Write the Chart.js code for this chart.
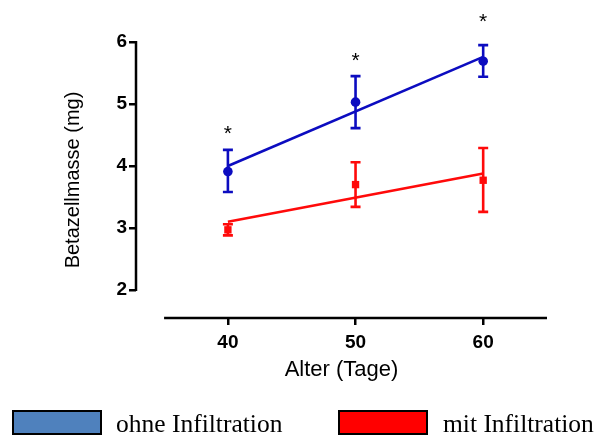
<!DOCTYPE html>
<html>
<head>
<meta charset="utf-8">
<script src="https://cdn.jsdelivr.net/npm/chart.js"></script>
<style>
  body { margin: 0; background: #fff; }
  #wrap { position: relative; width: 597px; height: 436px; overflow: hidden; }
  .box { position: absolute; top: 410px; width: 86px; height: 21px; border: 2.5px solid #000; }
  .txt { position: absolute; top: 411px; line-height: 1; font-family: "Liberation Serif", "Times New Roman", serif; font-size: 25.5px; color: #000; white-space: nowrap; }
</style>
</head>
<body>
<div id="wrap">
  <canvas id="chart"></canvas>
  <div class="box" style="left:12px;background:#4f81bd;"></div>
  <div class="txt" style="left:116px;">ohne Infiltration</div>
  <div class="box" style="left:338px;background:#ff0000;"></div>
  <div class="txt" style="left:443px;">mit Infiltration</div>
</div>
<script>
// Daten
const ages = [40, 50, 60];
const ohneMean = [3.91, 5.03, 5.69];
const ohneLow = [3.58, 4.61, 5.44];
const ohneHigh = [4.26, 5.45, 5.95];
const mitMean = [2.97, 3.70, 3.77];
const mitLow = [2.88, 3.34, 3.26];
const mitHigh = [3.06, 4.06, 4.29];
const fitX = [40, 60];
const ohneFit = [4.00, 5.76];
const mitFit = [3.10, 3.88];
const starY = [4.58, 5.76, 6.39];
const xTicks = [40, 50, 60];
const yTicks = [2, 3, 4, 5, 6];

const BLUE = '#0c0cc0';
const RED = '#ff0a0a';
const FONT = '"Liberation Sans", Arial, sans-serif';

const pts = (xs, ys) => xs.map((x, i) => ({ x: x, y: ys[i] }));

// Fehlerbalken, Sterne und Achsenlinien
const extras = {
    id: 'extras',
    afterDatasetsDraw(chart) {
        const { ctx, scales: { x, y }, chartArea } = chart;
        ctx.save();
        chart.data.datasets.forEach(ds => {
            if (!ds.errLow) return;
            ctx.strokeStyle = ds.borderColor;
            ctx.lineWidth = 2.6;
            ds.data.forEach((p, i) => {
                const px = x.getPixelForValue(p.x);
                const lo = y.getPixelForValue(ds.errLow[i]);
                const hi = y.getPixelForValue(ds.errHigh[i]);
                ctx.beginPath();
                ctx.moveTo(px, lo); ctx.lineTo(px, hi);
                ctx.moveTo(px - 5, lo); ctx.lineTo(px + 5, lo);
                ctx.moveTo(px - 5, hi); ctx.lineTo(px + 5, hi);
                ctx.stroke();
            });
        });
        // Sterne
        ctx.fillStyle = '#000';
        ctx.font = '21px ' + FONT;
        ctx.textAlign = 'center';
        ctx.textBaseline = 'middle';
        ages.forEach((a, i) => {
            ctx.fillText('*', x.getPixelForValue(a), y.getPixelForValue(starY[i]) + 4);
        });
        // Achsen
        ctx.strokeStyle = '#000';
        ctx.lineWidth = 2.5;
        ctx.beginPath();
        ctx.moveTo(chartArea.left, y.getPixelForValue(2) + 1);
        ctx.lineTo(chartArea.left, y.getPixelForValue(6) - 1);
        ctx.moveTo(x.getPixelForValue(35), chartArea.bottom);
        ctx.lineTo(x.getPixelForValue(65), chartArea.bottom);
        ctx.stroke();
        ctx.restore();
    }
};

new Chart(document.getElementById('chart'), {
    type: 'scatter',
    data: {
        datasets: [
            {
                label: 'ohne Infiltration Fit',
                data: pts(fitX, ohneFit),
                showLine: true,
                borderColor: BLUE,
                borderWidth: 2.6,
                pointRadius: 0
            },
            {
                label: 'mit Infiltration Fit',
                data: pts(fitX, mitFit),
                showLine: true,
                borderColor: RED,
                borderWidth: 2.6,
                pointRadius: 0
            },
            {
                label: 'ohne Infiltration',
                data: pts(ages, ohneMean),
                errLow: ohneLow,
                errHigh: ohneHigh,
                borderColor: BLUE,
                backgroundColor: BLUE,
                pointStyle: 'circle',
                pointRadius: 4.8,
                borderWidth: 0
            },
            {
                label: 'mit Infiltration',
                data: pts(ages, mitMean),
                errLow: mitLow,
                errHigh: mitHigh,
                borderColor: RED,
                backgroundColor: RED,
                pointStyle: 'rect',
                pointRadius: 5.2,
                borderWidth: 0
            }
        ]
    },
    options: {
        responsive: true,
        maintainAspectRatio: false,
        animation: false,
        layout: { padding: { left: 0, right: 50, top: 42, bottom: 48 } },
        plugins: {
            legend: { display: false },
            tooltip: { enabled: false }
        },
        scales: {
            x: {
                type: 'linear',
                min: 32.8,
                max: 65,
                afterBuildTicks: s => { s.ticks = xTicks.map(v => ({ value: v })); },
                afterFit: s => { s.height = 70; },
                border: { display: false },
                grid: { drawOnChartArea: false, drawTicks: true, tickLength: 7, color: '#000', lineWidth: 2.5 },
                ticks: { color: '#000', padding: 6, font: { family: FONT, size: 19, weight: 'bold' } },
                title: { display: true, text: 'Alter (Tage)', color: '#000', padding: { top: 0, bottom: 5 }, font: { family: FONT, size: 22 } }
            },
            y: {
                min: 1.548,
                max: 6,
                afterBuildTicks: s => { s.ticks = yTicks.map(v => ({ value: v })); },
                afterFit: s => { s.width = 136; },
                border: { display: false },
                grid: { drawOnChartArea: false, drawTicks: true, tickLength: 7, color: '#000', lineWidth: 2.5 },
                ticks: { color: '#000', padding: 2, font: { family: FONT, size: 19, weight: 'bold' } },
                title: { display: true, text: 'Betazellmasse (mg)', color: '#000', padding: { top: 61, bottom: 0 }, font: { family: FONT, size: 20 } }
            }
        }
    },
    plugins: [extras]
});
</script>
</body>
</html>
